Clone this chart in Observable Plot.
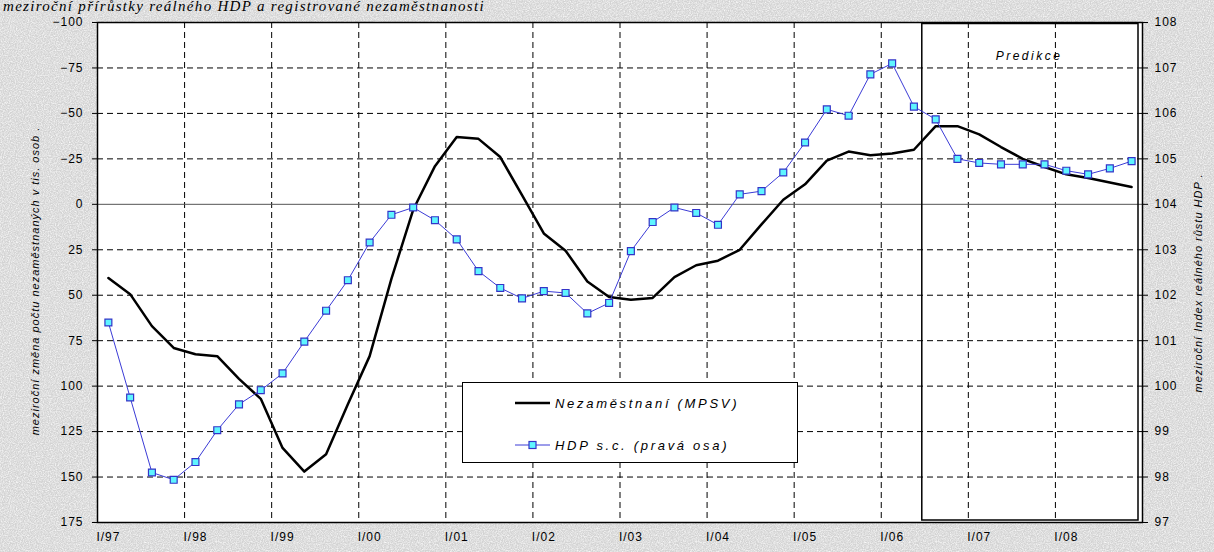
<!DOCTYPE html>
<html>
<head>
<meta charset="utf-8">
<script src="https://cdn.jsdelivr.net/npm/d3@7"></script>
<script src="https://cdn.jsdelivr.net/npm/@observablehq/plot@0.6"></script>
<style>
html, body { margin: 0; padding: 0; }
body {
  width: 1214px; height: 552px; overflow: hidden;
  background-color: #d3d3d3;
  background-image: url("data:image/svg+xml;utf8,<svg xmlns='http://www.w3.org/2000/svg' width='240' height='240'><filter id='n'><feTurbulence type='fractalNoise' baseFrequency='0.85' numOctaves='2' stitchTiles='stitch'/><feColorMatrix values='0 0 0 0 1  0 0 0 0 1  0 0 0 0 1  1.6 0 0 0 -0.55'/></filter><rect width='100%' height='100%' filter='url(%23n)'/></svg>");
}
#wrap { position: relative; width: 1214px; height: 552px; }
#wrap svg text { letter-spacing: 1px; }
.title { position: absolute; left: 3px; top: -1px; font: italic 15px/15px "Liberation Serif", "Times New Roman", serif; letter-spacing: 1.3px; white-space: nowrap; color: #000; }
.ylab { position: absolute; font: italic 11px "Liberation Sans", Arial, sans-serif; letter-spacing: 1px; white-space: nowrap; transform: translate(-50%, -50%) rotate(-90deg); color: #000; }
.pred { position: absolute; left: 1029px; top: 56px; transform: translate(-50%, -50%); font: italic 12px "Liberation Sans", Arial, sans-serif; letter-spacing: 2.5px; white-space: nowrap; }
.legend { position: absolute; left: 462px; top: 382px; width: 336px; height: 81px; box-sizing: border-box; background: #fff; border: 1px solid #000; }
.legend .row { position: absolute; left: 0; height: 20px; }
.legend .txt { position: absolute; left: 92px; top: 50%; transform: translateY(-50%); font: italic 13px "Liberation Sans", Arial, sans-serif; letter-spacing: 2.7px; white-space: nowrap; }
.legend svg { position: absolute; left: 50px; top: 0; }
</style>
</head>
<body>
<div id="wrap">
  <div class="title">meziroční přírůstky reálného HDP a registrované nezaměstnanosti</div>
</div>
<script>
// ---- data ----
const years = ["97","98","99","00","01","02","03","04","05","06","07","08"];
const quarters = ["I","II","III","IV"];
const predictionStart = "III/06";

// meziroční změna počtu nezaměstnaných (tis. osob), levá osa
const unemployment = [
  40.5, 49.4, 67, 79, 82.5, 83.5, 96, 107,
  134, 147, 137.5, 110, 83.5, 41, 3, -21,
  -37, -36, -26, -5, 16, 25.5, 42.5, 51,
  52.5, 51.5, 40, 33.5, 31, 25, 11, -2.5,
  -11, -24, -29, -27, -28, -30, -43, -43,
  -38.5, -31.5, -25, -20.5, -16.5, -14.5, -12, -9.5
];
// index reálného HDP s.c., pravá osa
const gdp = [
  101.4, 99.75, 98.1, 97.94, 98.33, 99.03, 99.6, 99.91,
  100.28, 100.98, 101.66, 102.33, 103.16, 103.77, 103.93, 103.65,
  103.23, 102.53, 102.16, 101.93, 102.09, 102.05, 101.6, 101.83,
  102.97, 103.61, 103.93, 103.81, 103.55, 104.22, 104.29, 104.7,
  105.36, 106.09, 105.95, 106.86, 107.1, 106.15, 105.87, 105.0,
  104.91, 104.88, 104.88, 104.88, 104.74, 104.66, 104.79, 104.95
];
const leftTicks = [-100, -75, -50, -25, 0, 25, 50, 75, 100, 125, 150, 175];
const rightTicks = [97, 98, 99, 100, 101, 102, 103, 104, 105, 106, 107, 108];

const seriesNames = ["Nezaměstnaní (MPSV)", "HDP s.c. (pravá osa)"];
const leftLabel = "meziroční změna počtu nezaměstnaných v tis. osob .";
const rightLabel = "meziroční Index reálného růstu HDP .";
const predictionLabel = "Predikce";

// ---- derived ----
const categories = years.flatMap(y => quarters.map(q => `${q}/${y}`));
const rows = categories.map((c, i) => ({c, i, u: unemployment[i], g: gdp[i]}));
// right axis (index) mapped onto left scale: 104 ↔ 0, 1 point = 25 tis.
const rightToLeft = r => (104 - r) * 25;
const leftToRight = v => 104 - v / 25;
const xc = d => d.i + 0.5;
const predIdx = categories.indexOf(predictionStart);
const yearBounds = years.slice(1).map((y, k) => (k + 1) * 4);
const yearLabelPos = years.map((y, k) => k * 4 + 0.5);

const W = 1214, H = 552;
const chart = Plot.plot({
  width: W, height: H,
  marginLeft: 97, marginRight: 72, marginTop: 22, marginBottom: 30,
  style: {background: "transparent", fontFamily: "'Liberation Sans', Arial, sans-serif", fontSize: "12px", color: "#000", overflow: "visible"},
  x: {type: "linear", domain: [0, categories.length]},
  y: {domain: [175, -100]},
  marks: [
    Plot.frame({fill: "white", stroke: "none"}),
    Plot.ruleY(leftTicks.filter(t => t !== 0 && t !== leftTicks[0] && t !== leftTicks[leftTicks.length - 1]),
      {stroke: "#000", strokeWidth: 1, strokeDasharray: "6,4"}),
    Plot.ruleX(yearBounds, {stroke: "#000", strokeWidth: 1, strokeDasharray: "6,4"}),
    Plot.ruleY([0], {stroke: "#555", strokeWidth: 1}),
    Plot.rect([predictionStart], {
      x1: () => predIdx, x2: () => categories.length, y1: () => leftTicks[0], y2: () => leftTicks[leftTicks.length - 1],
      insetLeft: -2.5, insetRight: 4, insetTop: 1.5, insetBottom: 2,
      fill: "none", stroke: "#000", strokeWidth: 1.5
    }),
    Plot.line(rows, {x: xc, y: "u", stroke: "#000", strokeWidth: 2.5, strokeLinejoin: "round"}),
    Plot.line(rows, {x: xc, y: d => rightToLeft(d.g), stroke: "#3b3bd6", strokeWidth: 1}),
    Plot.dot(rows, {x: xc, y: d => rightToLeft(d.g), symbol: "square", r: 3.9, fill: "#5ff5ff", stroke: "#3434c8", strokeWidth: 1.2}),
    Plot.frame({stroke: "#000", strokeWidth: 1.5}),
    Plot.axisY(leftTicks, {anchor: "left", tickSize: 5, tickPadding: 9, fontSize: 12, label: null}),
    Plot.axisY(rightTicks.map(rightToLeft), {anchor: "right", tickSize: 5, tickPadding: 7, fontSize: 12, label: null,
      tickFormat: v => String(Math.round(leftToRight(v)))}),
    Plot.axisX(yearLabelPos, {anchor: "bottom", tickSize: 0, tickPadding: 10, fontSize: 12, label: null,
      tickFormat: v => `${quarters[0]}/${years[Math.floor(v / 4)]}`})
  ]
});

const wrap = document.getElementById("wrap");
wrap.insertBefore(chart, wrap.firstChild);

function addDiv(cls, text, left, top) {
  const d = document.createElement("div");
  d.className = cls;
  d.textContent = text;
  if (left != null) d.style.left = left + "px";
  if (top != null) d.style.top = top + "px";
  wrap.appendChild(d);
  return d;
}
addDiv("ylab", leftLabel, 35, 281);
addDiv("ylab", rightLabel, 1198, 283);
addDiv("pred", predictionLabel);

// legend
const lg = document.createElement("div");
lg.className = "legend";
const rowsY = [20, 62];
seriesNames.forEach((name, k) => {
  const r = document.createElement("div");
  r.className = "row";
  r.style.top = (rowsY[k] - 10) + "px";
  r.style.width = "100%";
  const ns = "http://www.w3.org/2000/svg";
  const s = document.createElementNS(ns, "svg");
  s.setAttribute("width", "40"); s.setAttribute("height", "20");
  const ln = document.createElementNS(ns, "line");
  ln.setAttribute("x1", "2"); ln.setAttribute("x2", "37"); ln.setAttribute("y1", "10"); ln.setAttribute("y2", "10");
  ln.setAttribute("stroke", k === 0 ? "#000" : "#3b3bd6");
  ln.setAttribute("stroke-width", k === 0 ? "2.5" : "1");
  s.appendChild(ln);
  if (k === 1) {
    const sq = document.createElementNS(ns, "rect");
    sq.setAttribute("x", "16"); sq.setAttribute("y", "6.5"); sq.setAttribute("width", "7"); sq.setAttribute("height", "7");
    sq.setAttribute("fill", "#5ff5ff"); sq.setAttribute("stroke", "#3434c8"); sq.setAttribute("stroke-width", "1.2");
    s.appendChild(sq);
  }
  r.appendChild(s);
  const t = document.createElement("div");
  t.className = "txt";
  t.textContent = name;
  r.appendChild(t);
  lg.appendChild(r);
});
wrap.appendChild(lg);
</script>
</body>
</html>
